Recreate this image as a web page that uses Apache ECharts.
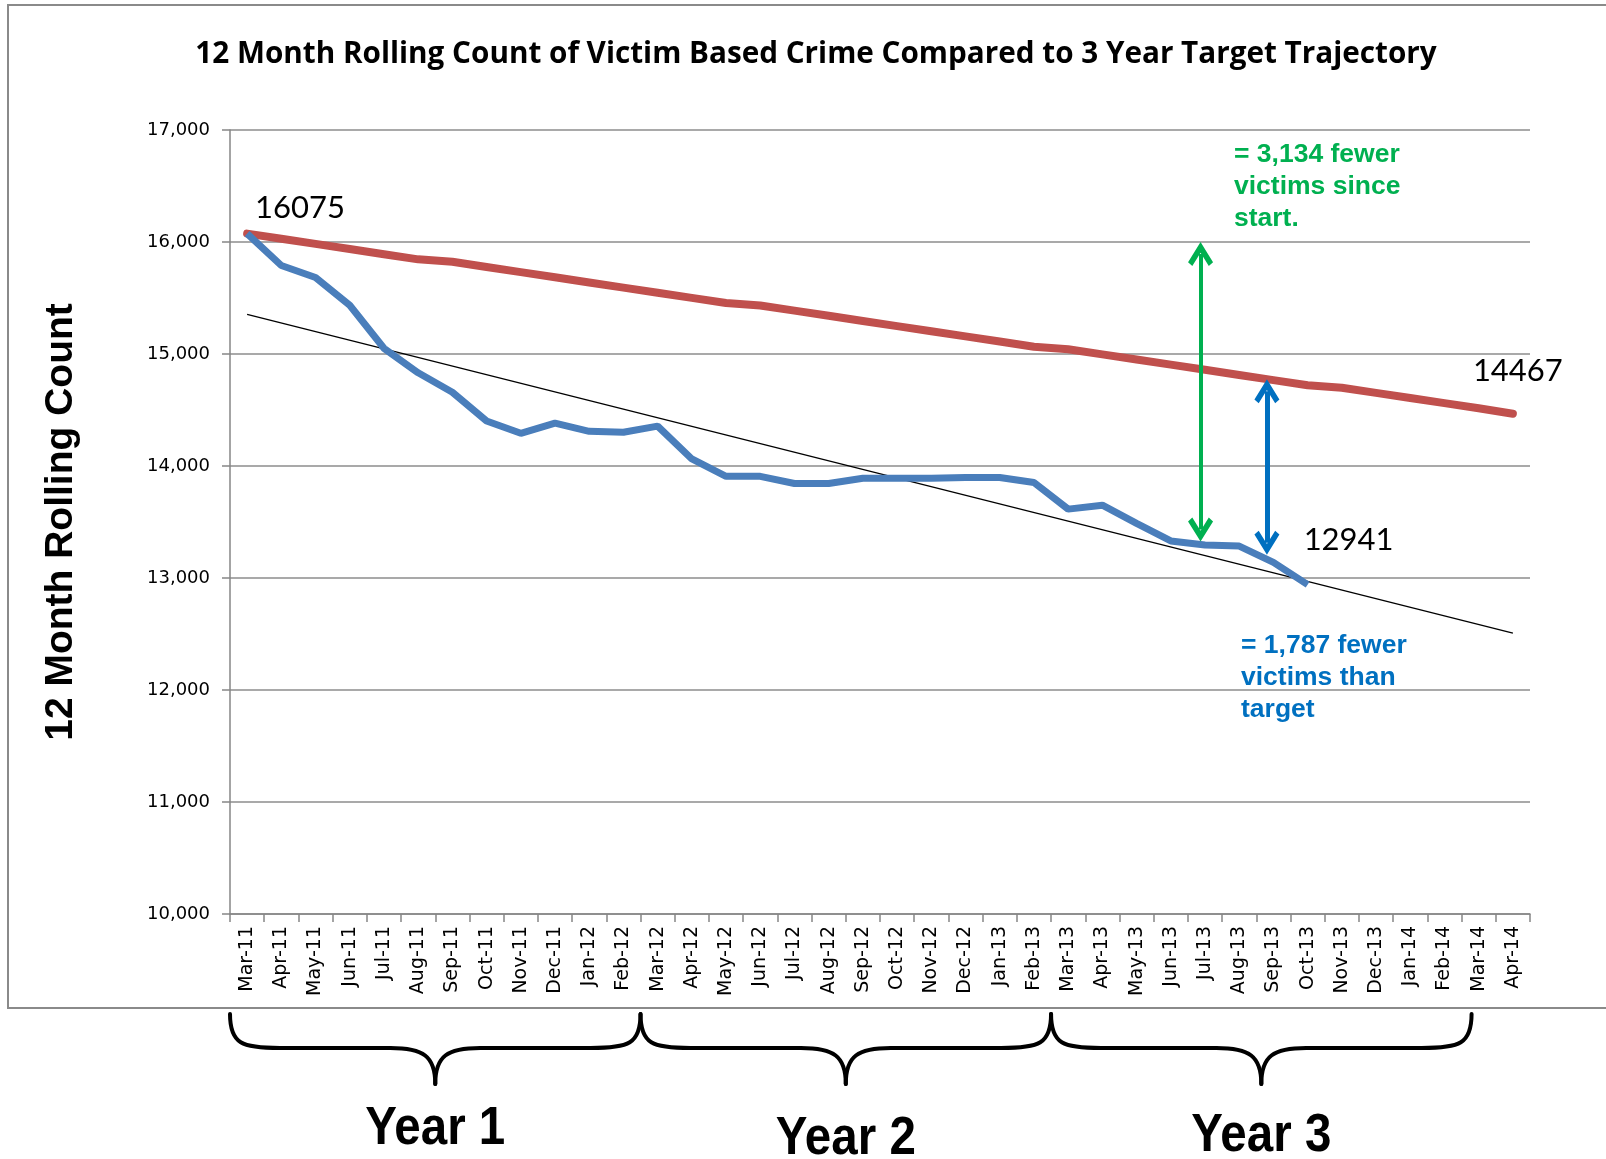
<!DOCTYPE html>
<html>
<head>
<meta charset="utf-8">
<script src="https://cdn.jsdelivr.net/npm/echarts@6/dist/echarts.min.js"></script>
<style>
  html, body { margin: 0; padding: 0; background: #fff; }
  #main { width: 1606px; height: 1159px; }
</style>
</head>
<body>
<div id="main"></div>
<script>
const months = ['Mar-11', 'Apr-11', 'May-11', 'Jun-11', 'Jul-11', 'Aug-11', 'Sep-11', 'Oct-11', 'Nov-11', 'Dec-11',
  'Jan-12', 'Feb-12', 'Mar-12', 'Apr-12', 'May-12', 'Jun-12', 'Jul-12', 'Aug-12', 'Sep-12', 'Oct-12',
  'Nov-12', 'Dec-12', 'Jan-13', 'Feb-13', 'Mar-13', 'Apr-13', 'May-13', 'Jun-13', 'Jul-13', 'Aug-13',
  'Sep-13', 'Oct-13', 'Nov-13', 'Dec-13', 'Jan-14', 'Feb-14', 'Mar-14', 'Apr-14'];

// 12 month rolling count (actual), Mar-11 .. Oct-13
const actual = [16075, 15790, 15683, 15435, 15051, 14832, 14658, 14402, 14292, 14383,
  14310, 14301, 14356, 14063, 13908, 13908, 13844, 13844, 13890, 13890,
  13890, 13898, 13898, 13853, 13615, 13650, 13487, 13331, 13295, 13285,
  13140, 12941];

// 3 year target trajectory
const target = [16075, 16029, 15983, 15937, 15891, 15845, 15823, 15777, 15731, 15685,
  15639, 15593, 15547, 15501, 15455, 15433, 15387, 15341, 15295, 15249,
  15203, 15157, 15111, 15065, 15043, 14997, 14951, 14905, 14859, 14813,
  14767, 14721, 14699, 14653, 14607, 14561, 14515, 14467];

// linear trend of the actual count (first and last month)
const trendMonths = ['Mar-11', 'Apr-14'];
const trendValues = [15353, 12508];

// double headed arrows: [x position in months, upper end, lower end] (arrow head centres)
const greenArrow = [27.87, 15893, 13432];
const blueArrow = [29.81, 14668, 13314];

const greenNote = ['= 3,134 fewer', 'victims since', 'start.'];
const blueNote = ['= 1,787 fewer', 'victims than', 'target'];
const yearLabels = ['Year 1', 'Year 2', 'Year 3'];

const chevron = 'path://M5,0 L10,7.5 L8.3,8.9 L5,4 L1.7,8.9 L0,7.5 Z';

const chart = echarts.init(document.getElementById('main'));

const gridLeft = 230, gridRight = 76, gridTop = 130, gridBottom = 245;
const plotW = 1606 - gridLeft - gridRight;
const step = plotW / months.length;

const graphics = [
  {
    type: 'rect', silent: true, z: -1,
    shape: { x: 8, y: 5, width: 1620, height: 1003 },
    style: { fill: 'none', stroke: '#8a8a8a', lineWidth: 2 }
  }
];

// curly brace under the axis, one per year (12 months each)
function addBrace(x0, x1) {
  const T = 1014, H = 1048, P = 1084;
  const m = (x0 + x1) / 2;
  const st = { fill: 'none', stroke: '#000', lineWidth: 4, lineCap: 'round' };
  const curve = (a, b, c, d) => graphics.push({
    type: 'bezierCurve', silent: true,
    shape: { x1: a[0], y1: a[1], cpx1: b[0], cpy1: b[1], cpx2: c[0], cpy2: c[1], x2: d[0], y2: d[1] },
    style: st
  });
  const line = (a, b) => graphics.push({
    type: 'line', silent: true,
    shape: { x1: a[0], y1: a[1], x2: b[0], y2: b[1] },
    style: st
  });
  curve([x0, T], [x0, H - 4], [x0 + 12, H], [x0 + 50, H]);
  line([x0 + 50, H], [m - 45, H]);
  curve([m - 45, H], [m - 12, H], [m, H + 8], [m, P]);
  curve([m, P], [m, H + 8], [m + 12, H], [m + 45, H]);
  line([m + 45, H], [x1 - 50, H]);
  curve([x1 - 50, H], [x1 - 12, H], [x1, H - 4], [x1, T]);
}

const yearCenters = [];
for (let k = 0; k < 3; k++) {
  const x0 = gridLeft + step * 12 * k;
  const x1 = gridLeft + step * 12 * (k + 1) + (k === 2 ? 10 : 0);
  addBrace(x0, x1);
  yearCenters.push((x0 + x1) / 2);
}
const yearY = [1129, 1139, 1136];
yearLabels.forEach((t, k) => {
  graphics.push({
    type: 'text', silent: true,
    x: yearCenters[k], y: yearY[k], scaleX: 0.88,
    style: {
      text: t, fill: '#000', align: 'center', verticalAlign: 'middle',
      font: 'bold 54px "Liberation Sans", Arial, sans-serif'
    }
  });
});
const noteFont = 'bold 26.5px "Liberation Sans", Arial, sans-serif';
greenNote.forEach((t, k) => {
  graphics.push({
    type: 'text', silent: true, x: 1234, y: 155 + 31.7 * k,
    style: { text: t, fill: '#00B050', align: 'left', verticalAlign: 'middle', font: noteFont }
  });
});
blueNote.forEach((t, k) => {
  graphics.push({
    type: 'text', silent: true, x: 1241, y: 646 + 31.7 * k,
    style: { text: t, fill: '#0070C0', align: 'left', verticalAlign: 'middle', font: noteFont }
  });
});

const numLabel = {
  show: true, color: '#000', fontFamily: 'Lato', fontSize: 31,
  align: 'left', verticalAlign: 'middle'
};

function arrowSeries(a, color, width) {
  return {
    type: 'line',
    xAxisIndex: 1,
    yAxisIndex: 0,
    data: [[a[0], a[1]], [a[0], a[2]]],
    showSymbol: false,
    lineStyle: { width: 0, opacity: 0 },
    z: 5,
    markLine: {
      silent: true,
      symbol: [chevron, chevron],
      symbolSize: [25, 24],
      label: { show: false },
      lineStyle: { color: color, width: width, type: 'solid' },
      emphasis: { disabled: true },
      data: [[{ coord: [a[0], a[1]] }, { coord: [a[0], a[2]] }]]
    }
  };
}

const option = {
  animation: false,
  backgroundColor: '#fff',
  title: {
    text: '12 Month Rolling Count of Victim Based Crime Compared to 3 Year Target Trajectory',
    left: 811, top: 35, textAlign: 'center',
    textStyle: { fontFamily: 'Open Sans', fontWeight: 'bold', fontSize: 29.7, color: '#000' }
  },
  grid: { left: gridLeft, right: gridRight, top: gridTop, bottom: gridBottom, containLabel: false },
  xAxis: [
    {
      type: 'category',
      data: months,
      boundaryGap: true,
      axisLine: { lineStyle: { color: '#868686', width: 1.5 } },
      axisTick: { show: true, interval: 0, length: 8, lineStyle: { color: '#868686', width: 1.5 } },
      axisLabel: {
        interval: 0, rotate: 90, margin: 12,
        fontFamily: 'DejaVu Sans', fontSize: 19, color: '#000'
      },
      splitLine: { show: false }
    },
    {
      type: 'value', show: false, min: -0.5, max: months.length - 0.5
    }
  ],
  yAxis: {
    type: 'value',
    min: 10000, max: 17000, interval: 1000,
    name: '12 Month Rolling Count',
    nameLocation: 'middle', nameGap: 149, nameRotate: 90,
    nameTextStyle: { fontFamily: 'Liberation Sans', fontWeight: 'bold', fontSize: 39, color: '#000' },
    axisLine: { show: true, onZero: false, lineStyle: { color: '#868686', width: 1.5 } },
    axisTick: { show: true, length: 8, lineStyle: { color: '#868686', width: 1.5 } },
    axisLabel: {
      margin: 20, fontFamily: 'DejaVu Sans', fontSize: 18, color: '#000',
      formatter: (v) => v.toLocaleString('en-US')
    },
    splitLine: { lineStyle: { color: '#8c8c8c', width: 1.5 } }
  },
  series: [
    {
      name: 'Trend',
      type: 'line',
      data: trendMonths.map((m, i) => [m, trendValues[i]]),
      showSymbol: false,
      lineStyle: { color: '#000', width: 1.3 },
      z: 3
    },
    {
      name: 'Target',
      type: 'line',
      data: target,
      showSymbol: false,
      lineStyle: { color: '#C0504D', width: 8, cap: 'round' },
      z: 2,
      markPoint: {
        symbol: 'circle', symbolSize: 0,
        data: [
          { coord: [months[0], target[0]], value: target[0], label: { ...numLabel, offset: [8, -26] } },
          { coord: [months[months.length - 1], target[target.length - 1]], value: target[target.length - 1],
            label: { ...numLabel, offset: [-40, -43] } }
        ]
      }
    },
    {
      name: 'Actual',
      type: 'line',
      data: actual,
      showSymbol: false,
      lineStyle: { color: '#4A7EBB', width: 7 },
      z: 4,
      markPoint: {
        symbol: 'circle', symbolSize: 0,
        data: [
          { coord: [months[actual.length - 1], actual[actual.length - 1]], value: actual[actual.length - 1],
            label: { ...numLabel, offset: [-4, -45] } }
        ]
      }
    },
    arrowSeries(greenArrow, '#00B050', 4),
    arrowSeries(blueArrow, '#0070C0', 5)
  ],
  graphic: graphics
};

chart.setOption(option);
</script>
</body>
</html>
